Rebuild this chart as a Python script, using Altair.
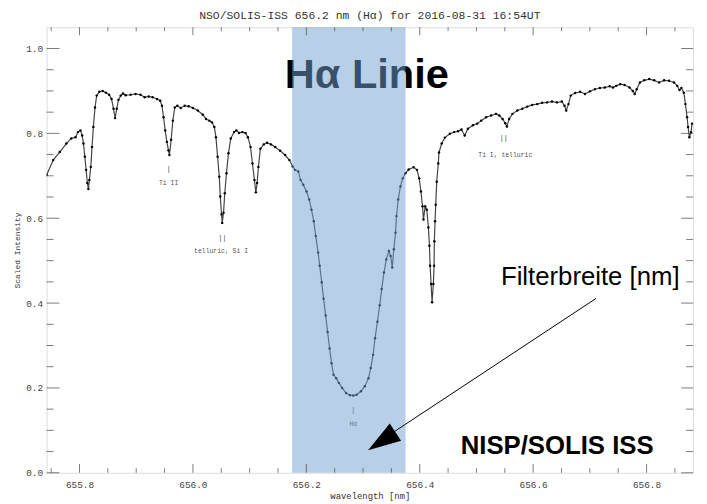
import altair as alt
import pandas as pd

# ---------------- data ----------------
wavelength = [
    655.7420, 655.7536, 655.7651, 655.7768, 655.7855, 655.7930, 655.7972, 655.8017,
    655.8047, 655.8070, 655.8094, 655.8117, 655.8139, 655.8157, 655.8174, 655.8199,
    655.8221, 655.8244, 655.8274, 655.8303, 655.8349, 655.8408, 655.8465, 655.8523,
    655.8565, 655.8600, 655.8628, 655.8657, 655.8687, 655.8727, 655.8767, 655.8814,
    655.8901, 655.8988, 655.9076, 655.9150, 655.9220, 655.9290, 655.9367, 655.9424,
    655.9454, 655.9482, 655.9511, 655.9541, 655.9569, 655.9586, 655.9616, 655.9646,
    655.9680, 655.9726, 655.9785, 655.9855, 655.9924, 655.9999, 656.0087, 656.0174,
    656.0231, 656.0290, 656.0336, 656.0378, 656.0406, 656.0435, 656.0465, 656.0482,
    656.0505, 656.0517, 656.0540, 656.0562, 656.0592, 656.0627, 656.0667, 656.0726,
    656.0766, 656.0813, 656.0871, 656.0928, 656.0970, 656.1016, 656.1050, 656.1085,
    656.1110, 656.1132, 656.1155, 656.1190, 656.1249, 656.1307, 656.1376, 656.1451,
    656.1538, 656.1626, 656.1702, 656.1760, 656.1800, 656.1859, 656.1899, 656.1946,
    656.2004, 656.2051, 656.2091, 656.2131, 656.2166, 656.2208, 656.2236, 656.2271,
    656.2305, 656.2340, 656.2375, 656.2410, 656.2445, 656.2480, 656.2527, 656.2574,
    656.2631, 656.2701, 656.2771, 656.2828, 656.2888, 656.2963, 656.3032, 656.3097,
    656.3137, 656.3177, 656.3212, 656.3254, 656.3294, 656.3329, 656.3369, 656.3411,
    656.3456, 656.3486, 656.3515, 656.3543, 656.3573, 656.3590, 656.3620, 656.3660,
    656.3700, 656.3747, 656.3805, 656.3892, 656.3951, 656.3991, 656.4021, 656.4049,
    656.4066, 656.4096, 656.4125, 656.4153, 656.4171, 656.4183, 656.4200, 656.4218,
    656.4240, 656.4253, 656.4258, 656.4270, 656.4282, 656.4300, 656.4327, 656.4340,
    656.4387, 656.4444, 656.4531, 656.4606, 656.4676, 656.4735, 656.4793, 656.4850,
    656.4938, 656.5014, 656.5084, 656.5171, 656.5258, 656.5345, 656.5403, 656.5461,
    656.5508, 656.5537, 656.5577, 656.5635, 656.5722, 656.5809, 656.5896, 656.5983,
    656.6071, 656.6158, 656.6245, 656.6332, 656.6419, 656.6506, 656.6553, 656.6583,
    656.6623, 656.6663, 656.6740, 656.6827, 656.6914, 656.7001, 656.7089, 656.7176,
    656.7263, 656.7350, 656.7408, 656.7465, 656.7535, 656.7612, 656.7699, 656.7756,
    656.7791, 656.7826, 656.7883, 656.7960, 656.8047, 656.8134, 656.8222, 656.8309,
    656.8396, 656.8483, 656.8541, 656.8581, 656.8615, 656.8657, 656.8685, 656.8715,
    656.8732, 656.8755, 656.8785, 656.8802,
]
intensity = [
    0.702, 0.737, 0.756, 0.776, 0.788, 0.791, 0.803, 0.807,
    0.795, 0.776, 0.745, 0.714, 0.683, 0.669, 0.690, 0.721,
    0.768, 0.815, 0.861, 0.889, 0.898, 0.900, 0.896, 0.891,
    0.881, 0.858, 0.836, 0.858, 0.879, 0.889, 0.894, 0.890,
    0.891, 0.893, 0.891, 0.885, 0.887, 0.885, 0.881, 0.877,
    0.865, 0.838, 0.807, 0.780, 0.760, 0.749, 0.785, 0.830,
    0.861, 0.865, 0.860, 0.865, 0.864, 0.860, 0.854, 0.844,
    0.834, 0.830, 0.826, 0.815, 0.791, 0.745, 0.698, 0.651,
    0.609, 0.589, 0.613, 0.659, 0.706, 0.753, 0.788, 0.803,
    0.807, 0.801, 0.803, 0.801, 0.791, 0.768, 0.729, 0.690,
    0.661, 0.683, 0.721, 0.764, 0.774, 0.778, 0.774, 0.768,
    0.759, 0.749, 0.737, 0.722, 0.714, 0.710, 0.690, 0.679,
    0.663, 0.644, 0.620, 0.593, 0.558, 0.519, 0.488, 0.449,
    0.410, 0.371, 0.332, 0.293, 0.258, 0.231, 0.223, 0.212,
    0.200, 0.188, 0.183, 0.182, 0.184, 0.192, 0.204, 0.223,
    0.247, 0.278, 0.317, 0.356, 0.395, 0.433, 0.472, 0.503,
    0.523, 0.511, 0.484, 0.527, 0.566, 0.605, 0.644, 0.675,
    0.694, 0.706, 0.715, 0.720, 0.714, 0.694, 0.663, 0.628,
    0.597, 0.628, 0.620, 0.578, 0.535, 0.488, 0.445, 0.402,
    0.445, 0.488, 0.546, 0.593, 0.632, 0.686, 0.729, 0.755,
    0.776, 0.790, 0.799, 0.803, 0.805, 0.809, 0.795, 0.811,
    0.819, 0.823, 0.830, 0.838, 0.842, 0.846, 0.842, 0.834,
    0.824, 0.816, 0.834, 0.846, 0.854, 0.858, 0.863, 0.867,
    0.869, 0.872, 0.873, 0.875, 0.873, 0.875, 0.865, 0.854,
    0.869, 0.889, 0.895, 0.898, 0.893, 0.899, 0.904, 0.907,
    0.908, 0.911, 0.908, 0.912, 0.916, 0.914, 0.908, 0.900,
    0.893, 0.904, 0.920, 0.925, 0.928, 0.925, 0.920, 0.925,
    0.924, 0.920, 0.912, 0.902, 0.907, 0.896, 0.869, 0.838,
    0.815, 0.791, 0.803, 0.823,
]

x_major = [655.8, 656.0, 656.2, 656.4, 656.6, 656.8]
x_minor = [655.75, 655.85, 655.9, 655.95, 656.05, 656.1, 656.15, 656.25, 656.3,
           656.35, 656.45, 656.5, 656.55, 656.65, 656.7, 656.75, 656.85]
y_major = [0.0, 0.2, 0.4, 0.6, 0.8, 1.0]
y_minor = [0.05, 0.1, 0.15, 0.25, 0.3, 0.35, 0.45, 0.5, 0.55, 0.65, 0.7, 0.75,
           0.85, 0.9, 0.95]

filter_band = [656.175, 656.375]

# spectral line identifications
line_marks = ["|", "| |", "|", "| |"]
line_mark_x = [655.9572, 656.0522, 656.2828, 656.5482]
line_mark_y = [0.716, 0.554, 0.149, 0.788]
line_names = ["Ti II", "telluric, Si I", "Hα", "Ti I, telluric"]
line_name_x = [655.9572, 656.0496, 656.2828, 656.5508]
line_name_y = [0.683, 0.522, 0.116, 0.749]

title_text = "NSO/SOLIS-ISS 656.2 nm (Hα) for 2016-08-31 16:54UT"

# ---------------- chart ----------------
W, H = 653, 450
XMIN, XMAX = 655.742, 656.882
xs = alt.Scale(domain=[XMIN, XMAX], nice=False, zero=False)
ys = alt.Scale(domain=[0, 1.05], nice=False, zero=False)
AX = "#444444"
MONO = "Liberation Mono"

x_axis = alt.Axis(values=x_major, format=".1f", title="wavelength [nm]", ticks=False,
                  domain=False, grid=False, labelFont=MONO, labelFontSize=9.5,
                  labelColor=AX, labelPadding=7, titleFont=MONO, titleFontSize=9,
                  titleFontWeight="normal", titleColor="#333333", titlePadding=2)
y_axis = alt.Axis(values=y_major, format=".1f", title="Scaled Intensity", ticks=False,
                  domain=False, grid=False, labelFont=MONO, labelFontSize=9.5,
                  labelColor=AX, labelPadding=4, titleFont=MONO, titleFontSize=8,
                  titleFontWeight="normal", titleColor="#333333", titlePadding=4)


def XE(field="wl"):
    return alt.X(f"{field}:Q", scale=xs, axis=x_axis, title="wavelength [nm]")


def YE(field="I"):
    return alt.Y(f"{field}:Q", scale=ys, axis=y_axis, title="Scaled Intensity")


spec = pd.DataFrame({"wl": wavelength, "I": intensity})
spec_line = alt.Chart(spec).mark_line(color="#444444", strokeWidth=1.2, clip=True).encode(
    x=XE(), y=YE(), order="wl:Q")
spec_pts = alt.Chart(spec).mark_circle(size=6, color="black", opacity=1, clip=True).encode(
    x=XE(), y=YE())

marks_df = pd.DataFrame({"t": line_marks, "wl": line_mark_x, "I": line_mark_y})
names_df = pd.DataFrame({"t": line_names, "wl": line_name_x, "I": line_name_y})
id_marks = alt.Chart(marks_df).mark_text(font="Liberation Sans", fontSize=7.5,
                                         color="#555555", baseline="middle").encode(
    x=XE(), y=YE(), text="t:N")
id_names = alt.Chart(names_df).mark_text(font=MONO, fontSize=6.5,
                                         color="#555555", baseline="middle").encode(
    x=XE(), y=YE(), text="t:N")

big_df = pd.DataFrame({"t": ["Hα Linie"], "wl": [656.3067], "I": [0.907]})
big_text = alt.Chart(big_df).mark_text(font="Liberation Sans", fontSize=42, fontWeight="bold",
                                       color="black", baseline="alphabetic").encode(
    x=XE(), y=YE(), text="t:N")

band_df = pd.DataFrame({"wl": [filter_band[0]], "wl2": [filter_band[1]]})
band = alt.Chart(band_df).mark_rect(color="#719fd1", opacity=0.5).encode(
    x=XE(), x2="wl2:Q")

notes_df = pd.DataFrame({"t": ["Filterbreite [nm]"], "wl": [656.7007], "I": [0.4435]})
notes = alt.Chart(notes_df).mark_text(font="Liberation Sans", fontSize=26,
                                      color="black", baseline="alphabetic").encode(
    x=XE(), y=YE(), text="t:N")
nisp_df = pd.DataFrame({"t": ["NISP/SOLIS ISS"], "wl": [656.6423], "I": [0.0437]})
nisp = alt.Chart(nisp_df).mark_text(font="Liberation Sans", fontSize=26, fontWeight="bold",
                                    color="black", baseline="alphabetic").encode(
    x=XE(), y=YE(), text="t:N")

arrow_df = pd.DataFrame({"wl": [656.711, 656.3200], "I": [0.411, 0.066], "o": [0, 1]})
arrow_line = alt.Chart(arrow_df).mark_line(color="black", strokeWidth=1).encode(
    x=XE(), y=YE(), order="o:Q")
head_df = pd.DataFrame({"wl": [656.3330], "I": [0.0745]})
arrow_head = alt.Chart(head_df).mark_point(shape="M0,-1L0.625,1L-0.625,1Z", size=1100,
                                           angle=236.4, filled=True, color="black",
                                           opacity=1).encode(x=XE(), y=YE())


def xticks(values, length, at, sign):
    df = pd.DataFrame({"wl": values, "I": [at] * len(values)})
    return alt.Chart(df).mark_tick(orient="vertical", size=length, thickness=1, color=AX,
                                   yOffset=sign * length / 2).encode(x=XE(), y=YE())


def yticks(values, length, at, sign):
    df = pd.DataFrame({"I": values, "wl": [at] * len(values)})
    return alt.Chart(df).mark_tick(orient="horizontal", size=length, thickness=1, color=AX,
                                   xOffset=sign * length / 2).encode(x=XE(), y=YE())


ticks = [
    xticks(x_major, 9, 0.0, -1), xticks(x_minor, 4.5, 0.0, -1),
    xticks(x_major, 8, 1.05, 1), xticks(x_minor, 4, 1.05, 1),
    yticks(y_major, 13, XMIN, 1), yticks(y_minor, 7, XMIN, 1),
    yticks(y_major, 12, XMAX, -1), yticks(y_minor, 7, XMAX, -1),
]

chart = alt.layer(
    spec_line, spec_pts, id_marks, id_names, big_text, band, notes, nisp,
    arrow_line, arrow_head, *ticks
).properties(
    width=W, height=H,
    title=alt.TitleParams(title_text, font=MONO, fontSize=11.5, fontWeight="normal",
                          color="#333333", offset=6, anchor="middle"),
    autosize=alt.AutoSizeParams(type="none"),
    padding={"left": 39, "top": 17, "right": 6, "bottom": 26},
).configure_view(stroke=AX, strokeWidth=1).configure(background="white")

chart.save("out.html", embed_options={"renderer": "svg", "actions": False})
